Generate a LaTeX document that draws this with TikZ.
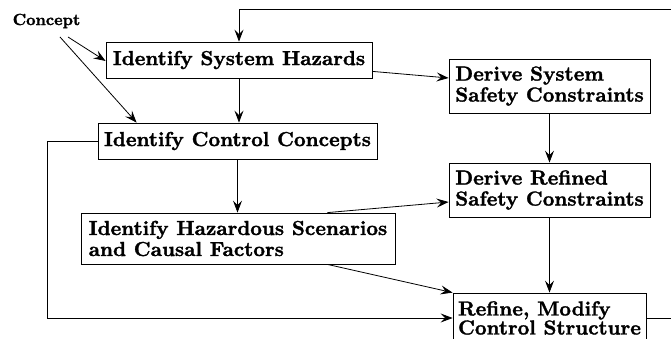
\documentclass[tikz,border=0pt]{standalone}
\usepackage{fontspec}
\setmainfont{lmroman10-regular.otf}[BoldFont=lmroman10-bold.otf, BoldFeatures={FakeBold=1.5}]
\usetikzlibrary{arrows.meta,calc}
\begin{document}
\begin{tikzpicture}[x=1pt,y=-1pt,
  stepbox/.style={draw, line width=0.8pt, align=left, inner sep=0pt,
    font=\bfseries\fontsize{20.3}{21}\selectfont},
  flow/.style={line width=0.8pt, -{Stealth[length=12pt,width=9pt,inset=4.5pt]}}]
\useasboundingbox (0,0) rectangle (671,339);
\begin{scope}
\clip (0,0) rectangle (671,339);

% process steps
\node[stepbox, minimum width=266pt, minimum height=36pt] (b1) at (239,60) {Identify System Hazards};
\node[stepbox, minimum width=201pt, minimum height=54pt] (b2) at (549.5,86) {Derive System\\Safety Constraints};
\node[stepbox, minimum width=279pt, minimum height=36pt] (b3) at (237.5,141) {Identify Control Concepts};
\node[stepbox, minimum width=201pt, minimum height=54pt] (b4) at (549.5,190) {Derive Refined\\Safety Constraints};
\node[stepbox, minimum width=314pt, minimum height=51pt] (b5) at (238,238.5) {Identify Hazardous Scenarios\\and Causal Factors};
\node[stepbox, minimum width=193pt, minimum height=50pt,
      font=\bfseries\fontsize{20.3}{19}\selectfont] (b6) at (549.5,318) {Refine, Modify\\Control Structure};

% input label
\node[font=\bfseries\fontsize{16.2}{18}\selectfont, inner sep=0pt] (concept) at (46.5,21) {Concept};
\coordinate (c1) at (68,37);
\coordinate (c2) at (60,37);

% connectors
\draw[flow] (c1) -- ($(b1.west)+(0,1)$);
\draw[flow] (c2) -- ($(b3.north west)+(39,0)$);
\draw[flow] (b1.south) -- (b1.south |- b3.north);
\draw[flow] ($(b1.south east)+(0,-7)$) -- ($(b2.west)+(0,-8)$);
\draw[flow] (b2.south) -- (b4.north);
\draw[flow] (b3.south) -- (b3.south |- b5.north);
\draw[flow] ($(b5.north east)+(-68,0)$) -- ($(b4.west)+(0,12)$);
\draw[flow] ($(b5.south east)+(-68,0)$) -- (b6.north west);
\draw[flow] (b4.south) -- (b6.north);

% feedback loops
\draw[flow] (b3.west) -- ++(-50,0) |- (b6.west);
\draw[flow] (b6.east) -- ++(26,0) |- ($(b1.north)+(0,-32)$) -- (b1.north);
\end{scope}
\end{tikzpicture}
\end{document}
